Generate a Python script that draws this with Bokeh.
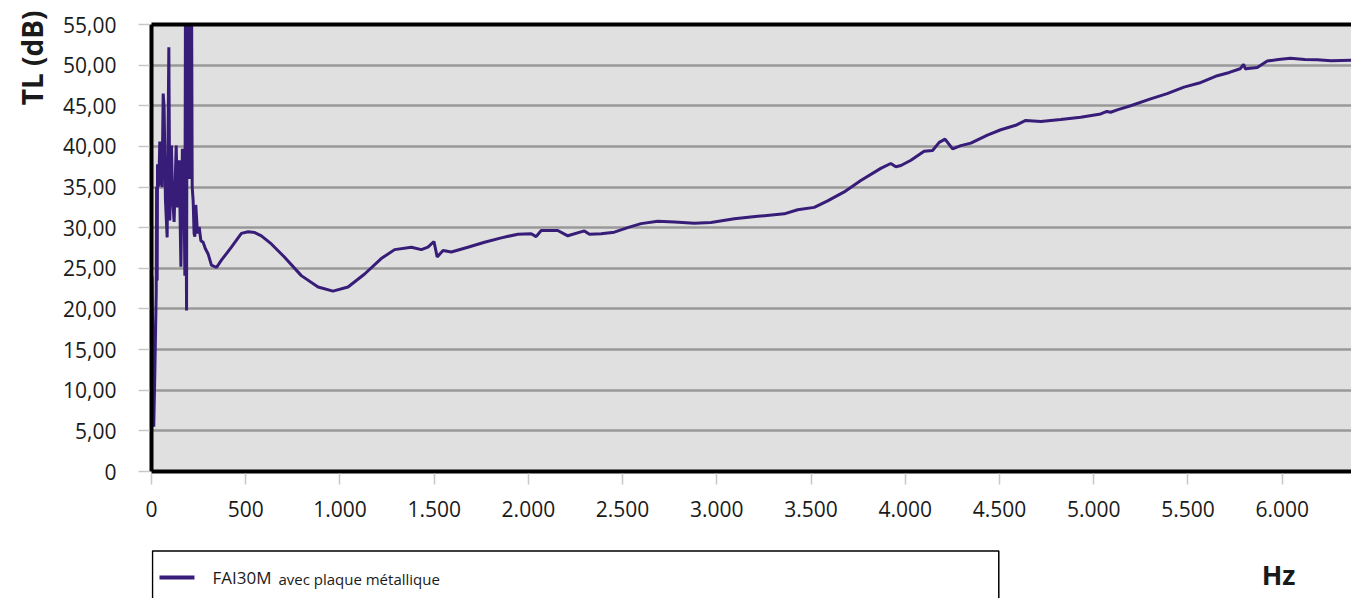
from bokeh.plotting import figure
from bokeh.models import FixedTicker, Range1d, LinearAxis, Title
from bokeh.layouts import column
from bokeh.embed import file_html
from bokeh.resources import INLINE
from bokeh.core.properties import value

# ---- data ----
series_name = "FAI30M"
series_desc = "avec plaque métallique"

freq = [3, 12, 18, 25, 27, 30, 32, 35, 39, 44, 49, 56, 62, 67, 74, 83, 92, 97,
        106, 111, 120, 131, 138, 147, 156, 164, 171, 177, 180, 183, 186, 189,
        192, 195, 198, 201, 204, 207, 210, 213, 216, 221, 226, 230, 235, 244,
        253, 262, 274, 286, 300, 318, 345, 371, 424, 477, 513, 548, 583, 636,
        705, 795, 884, 963, 1043, 1131, 1219, 1290, 1379, 1432, 1467, 1499,
        1516, 1547, 1591, 1679, 1767, 1856, 1944, 2015, 2041, 2068, 2156, 2209,
        2297, 2324, 2386, 2456, 2527, 2598, 2687, 2775, 2881, 2969, 3093, 3217,
        3358, 3429, 3517, 3588, 3676, 3764, 3870, 3923, 3950, 3977, 4030, 4100,
        4145, 4180, 4211, 4251, 4295, 4348, 4436, 4507, 4586, 4639, 4719, 4825,
        4931, 5037, 5070, 5090, 5125, 5196, 5302, 5390, 5479, 5560, 5656, 5720,
        5777, 5795, 5806, 5819, 5868, 5921, 5980, 6044, 6120, 6186, 6260, 6370]
tl = [24.0, 5.5, 12.5, 22.0, 35.0, 23.5, 37.8, 35.0, 35.5, 40.6, 36.0, 35.0,
      46.5, 44.8, 33.4, 28.8, 52.2, 30.9, 40.1, 34.2, 30.7, 40.1, 32.5, 38.3,
      25.2, 39.7, 38.7, 24.1, 56.0, 36.0, 19.8, 56.0, 37.0, 56.0, 36.0, 56.0,
      37.0, 56.0, 36.0, 56.0, 35.0, 33.3, 29.3, 28.9, 32.8, 29.3, 30.1, 28.4,
      28.2, 27.4, 26.8, 25.4, 25.1, 26.0, 27.6, 29.3, 29.5, 29.4, 29.0, 28.0,
      26.4, 24.1, 22.7, 22.2, 22.7, 24.3, 26.2, 27.3, 27.6, 27.3, 27.6, 28.3,
      26.4, 27.2, 27.0, 27.6, 28.2, 28.75, 29.2, 29.25, 28.9, 29.65, 29.65,
      29.0, 29.6, 29.2, 29.25, 29.45, 30.0, 30.5, 30.8, 30.7, 30.55, 30.65,
      31.1, 31.4, 31.7, 32.2, 32.5, 33.3, 34.4, 35.8, 37.3, 37.9, 37.5, 37.65,
      38.3, 39.4, 39.5, 40.5, 40.9, 39.7, 40.1, 40.4, 41.4, 42.05, 42.6, 43.2,
      43.07, 43.3, 43.6, 44.0, 44.3, 44.2, 44.5, 45.0, 45.85, 46.5, 47.3, 47.8,
      48.7, 49.1, 49.55, 50.1, 49.5, 49.6, 49.7, 50.5, 50.7, 50.85, 50.7, 50.65,
      50.55, 50.6]

y_ticks = [0, 5, 10, 15, 20, 25, 30, 35, 40, 45, 50, 55]
y_labels = ["0", "5,00", "10,00", "15,00", "20,00", "25,00", "30,00", "35,00",
            "40,00", "45,00", "50,00", "55,00"]
x_ticks = [0, 500, 1000, 1500, 2000, 2500, 3000, 3500, 4000, 4500, 5000, 5500, 6000]
x_labels = ["0", "500", "1.000", "1.500", "2.000", "2.500", "3.000", "3.500",
            "4.000", "4.500", "5.000", "5.500", "6.000"]
y_title = "TL (dB)"
x_title = "Hz"

LINE_COLOR = "#371d78"
FONT = "Open Sans"
W = 1351

p = figure(width=W, height=543, x_range=Range1d(0, 6368), y_range=Range1d(0, 55),
           output_backend="svg", toolbar_location=None,
           min_border_left=150, min_border_top=24, min_border_bottom=72,
           min_border_right=0)
p.background_fill_color = "#e0e0e0"
p.border_fill_color = "white"
p.outline_line_color = None
p.xgrid.visible = False
p.ygrid.ticker = FixedTicker(ticks=y_ticks)
p.ygrid.grid_line_color = "#999999"
p.ygrid.grid_line_width = 2.5

for ax, ticks, labels in ((p.yaxis[0], y_ticks, y_labels), (p.xaxis[0], x_ticks, x_labels)):
    ax.ticker = FixedTicker(ticks=ticks)
    ax.major_label_overrides = {t: l for t, l in zip(ticks, labels)}
    ax.axis_line_color = "black"
    ax.axis_line_width = 4
    ax.major_tick_line_color = "#c8c8c8"
    ax.major_tick_line_width = 1.5
    ax.major_tick_in = -2
    ax.minor_tick_line_color = None
    ax.major_label_text_font = FONT
    ax.major_label_text_font_size = "21px"
    ax.major_label_text_color = "#1a1a1a"

p.yaxis.major_tick_out = 13
p.yaxis.major_label_standoff = 22
p.xaxis.major_tick_out = 13
p.xaxis.major_label_standoff = 16

top = LinearAxis(ticker=FixedTicker(ticks=[]), axis_line_color="black", axis_line_width=4,
                 major_label_text_font_size="0px", major_tick_out=0, major_tick_in=0,
                 minor_tick_out=0, minor_tick_in=0)
p.add_layout(top, "above")

# y-axis title near the top of the axis, as in the reference
p.add_layout(Title(text=y_title, align="right", text_font=FONT, text_font_size="28px",
                   text_font_style="bold", text_color="#1a1a1a", standoff=20,
                   offset=-14), "left")

p.line(freq, tl, line_color=LINE_COLOR, line_width=3)

# ---- legend strip (coordinates = page pixels) ----
p2 = figure(width=W, height=55, x_range=Range1d(150, 1351), y_range=Range1d(598, 543),
            output_backend="svg", toolbar_location=None, x_axis_type=None, y_axis_type=None,
            min_border_left=150, min_border_right=0, min_border_top=0, min_border_bottom=0)
p2.outline_line_color = None
p2.xgrid.visible = False
p2.ygrid.visible = False
p2.quad(left=[151], right=[998], top=[550.5], bottom=[640], fill_color=None,
        line_color="black", line_width=1.5)
p2.line([158, 193], [577, 577], line_color=LINE_COLOR, line_width=4)
p2.text(x=[211], y=[577], text=[series_name], text_font=value(FONT), text_font_size="17px",
        text_baseline="middle", text_color="#1a1a1a")
p2.text(x=[277], y=[578], text=[series_desc], text_font=value(FONT), text_font_size="15px",
        text_baseline="middle", text_color="#1a1a1a")
p2.text(x=[1278], y=[574], text=[x_title], text_font=value(FONT), text_font_size="27px",
        text_font_style="bold", text_align="center", text_baseline="middle",
        text_color="#1a1a1a")

layout = column(p, p2)
open("out.html", "w").write(file_html(layout, INLINE))
